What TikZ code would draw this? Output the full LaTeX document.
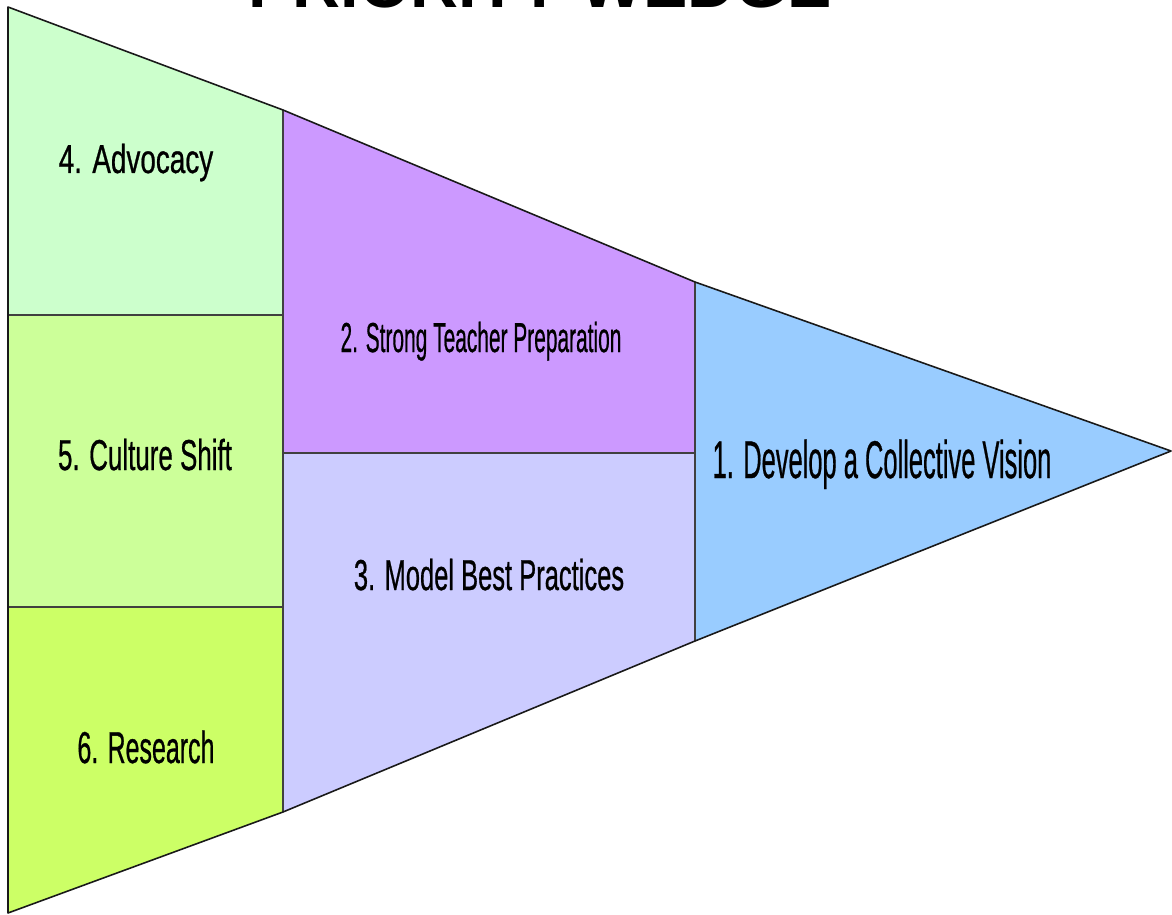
\documentclass[tikz,border=0pt]{standalone}
\usepackage{fontspec}
\usepackage{graphicx}
\setmainfont{Liberation Sans}
\newfontfamily\labelfont[FakeBold=0.8]{Liberation Sans}

\definecolor{advocacy}{HTML}{CCFFCC}
\definecolor{culture}{HTML}{CCFF99}
\definecolor{research}{HTML}{CCFF66}
\definecolor{teacher}{HTML}{CC99FF}
\definecolor{practice}{HTML}{CCCCFF}
\definecolor{vision}{HTML}{99CCFF}

% size, horizontal squeeze, text
\newcommand{\wedgelabel}[3]{\labelfont\fontsize{#1}{#1}\selectfont\scalebox{#2}[1]{#3}}

\tikzset{
	piece/.style={draw=black!75, line width=0.7pt, line join=round},
	rim/.style={draw=black!90, line width=0.9pt, line join=round},
	wedgetext/.style={anchor=base, inner sep=0pt}
}

\begin{document}
\begin{tikzpicture}[x=0.02cm, y=-0.02cm]
			\useasboundingbox (0,0) rectangle (1172,915);

			% corners of the wedge
			\coordinate (tl) at (8,7);
			\coordinate (bl) at (8,913);
			\coordinate (tip) at (1171,451);
			\coordinate (a1) at (283,110);
			\coordinate (a2) at (283,812);
			\coordinate (b1) at (695,282);
			\coordinate (b2) at (695,641);

			\fill[advocacy] (tl) -- (a1) -- (283,315) -- (8,315) -- cycle;
			\fill[culture] (8,315) -- (283,315) -- (283,607) -- (8,607) -- cycle;
			\fill[research] (8,607) -- (283,607) -- (a2) -- (bl) -- cycle;
			\fill[teacher] (a1) -- (b1) -- (695,453) -- (283,453) -- cycle;
			\fill[practice] (283,453) -- (695,453) -- (b2) -- (a2) -- cycle;
			\fill[vision] (b1) -- (tip) -- (b2) -- cycle;

			\draw[piece]
			(a1) -- (a2)
			(b1) -- (b2)
			(8,315) -- (283,315)
			(8,607) -- (283,607)
			(283,453) -- (695,453)
			;
			\draw[rim] (tl) -- (a1) -- (b1) -- (tip) -- (b2) -- (a2) -- (bl) -- cycle;

			\node (title) at (540,8) [wedgetext] {\fontsize{37.8}{38}\selectfont\bfseries PRIORITY WEDGE};

			\node (n4) at (136,173) [wedgetext] {\wedgelabel{23}{0.69}{4. Advocacy}};
			\node (n5) at (145,470) [wedgetext] {\wedgelabel{24.6}{0.60}{5. Culture Shift}};
			\node (n6) at (146,763) [wedgetext] {\wedgelabel{25.4}{0.56}{6. Research}};
			\node (n2) at (481,352) [wedgetext] {\wedgelabel{23.8}{0.50}{2. Strong Teacher Preparation}};
			\node (n3) at (489,590) [wedgetext] {\wedgelabel{24.6}{0.59}{3. Model Best Practices}};
			\node (n1) at (882,478) [wedgetext] {\wedgelabel{30.2}{0.48}{1. Develop a Collective Vision}};
		\end{tikzpicture}
\end{document}
